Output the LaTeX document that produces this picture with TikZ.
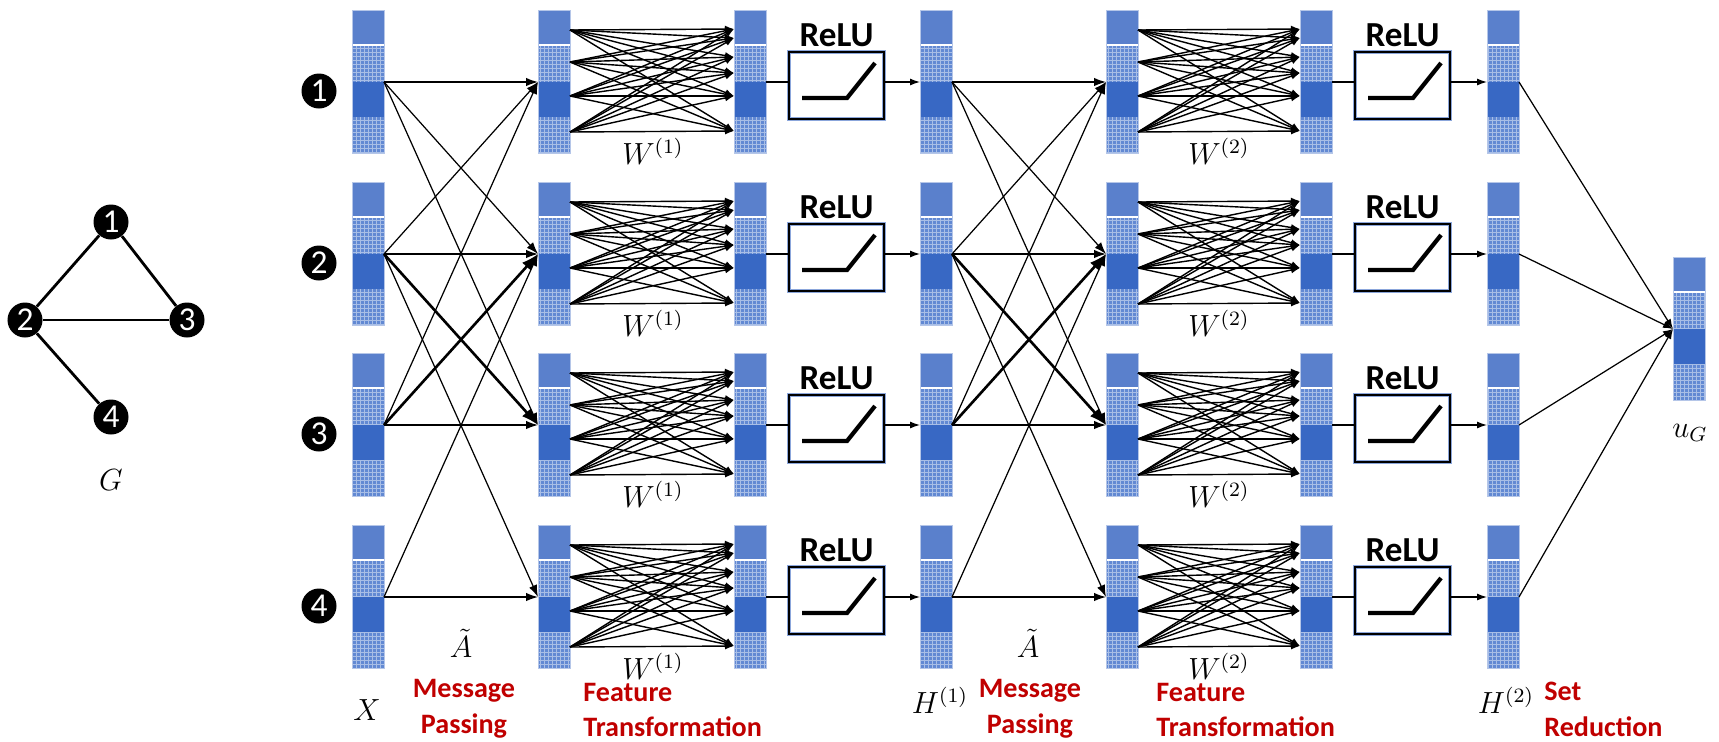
\documentclass[tikz,border=0pt]{standalone}
\usepackage{graphicx}
\usepackage{fontspec}
\newfontfamily\carlito{Carlito}
\usetikzlibrary{calc,arrows.meta}

\definecolor{segtop}{HTML}{5A80CC}
\definecolor{segdot}{HTML}{6289D3}
\definecolor{segdark}{HTML}{3868C4}
\definecolor{redlbl}{HTML}{C00000}

\newcommand{\mlbl}[1]{\scalebox{1.45}{$#1$}}

\tikzset{
  colbox/.style={minimum width=6.4mm, minimum height=28.6mm, inner sep=0pt},
  gridline/.style={white, line width=0.3pt, opacity=0.45, step=0.8mm},
  colframe/.style={draw=segtop!45!white, line width=0.5pt},
  mp/.style={-{Latex[length=2.4mm,width=1.7mm]}, line width=0.7pt},
  mpbold/.style={-{Latex[length=3.4mm,width=2.4mm]}, line width=1.5pt},
  ft/.style={-{Latex[length=1.8mm,width=1.4mm]}, line width=0.8pt},
  arr/.style={-{Latex[length=2mm,width=1.4mm]}, line width=0.7pt},
  plain/.style={line width=0.7pt},
  relu/.style={draw=black, line width=0.7pt, minimum width=19mm, minimum height=13.4mm, inner sep=0pt, preaction={draw=segtop!70, line width=2pt}},
  relucurve/.style={line width=2.4pt},
  relulabel/.style={font=\carlito\bfseries\fontsize{20}{20}\selectfont, anchor=base, inner sep=0pt},
  rowid/.style={circle, fill=black, text=white, minimum size=7mm, inner sep=0pt, font=\carlito\fontsize{19}{19}\selectfont},
  gedge/.style={line width=1.6pt},
  mathlbl/.style={font=\fontsize{12}{14}\selectfont, inner sep=0pt},
  steplbl/.style={font=\carlito\bfseries\fontsize{16}{20.4}\selectfont, text=redlbl, align=left, inner sep=0pt},
}

% one feature column: name, left x, top y
\newcommand{\featcol}[3]{%
  \node[colbox] (#1) at (#2+16,#3+71.5) {};
  \fill[segtop] (#2,#3) rectangle (#2+32,#3+34);
  \fill[segdot] (#2,#3+36) rectangle (#2+32,#3+72);
  \draw[gridline] (#2,#3+72) grid (#2+32,#3+36);
  \fill[segdark] (#2,#3+72) rectangle (#2+32,#3+107);
  \fill[segdot] (#2,#3+107) rectangle (#2+32,#3+143);
  \draw[gridline] (#2,#3+143) grid (#2+32,#3+107);
  \draw[colframe] (#2,#3) rectangle (#2+32,#3+143);
  \coordinate (#1i) at (#2,#3+72);
  \coordinate (#1o) at (#2+32,#3+72);
  \foreach \k/\o in {1/20,2/52,3/86,4/122} {\coordinate (#1s\k) at (#2+32,#3+\o);}
  \foreach \k/\o in {1/19,2/28,3/47,4/63,5/86,6/121} {\coordinate (#1t\k) at (#2,#3+\o);}
}

% relu box: name, left x, top y
\newcommand{\relubox}[3]{%
  \node[relu] (#1) at (#2+47.5,#3+33.5) {};
  \draw[relucurve] (#2+13,#3+46) -- (#2+58,#3+46) -- (#2+86,#3+11);
  \node[relulabel] (#1lbl) at ($(#1.north)+(0,-5)$) {ReLU};
}

\begin{document}
\begin{tikzpicture}[x=0.2mm, y=-0.2mm]
\useasboundingbox (0,0) rectangle (1719,741);

% input graph
\node[rowid] (g1) at (111,222) {1};
\node[rowid] (g2) at (25,320) {2};
\node[rowid] (g3) at (187,320) {3};
\node[rowid] (g4) at (111,417) {4};
\draw[gedge] (g1) -- (g2);
\draw[gedge] (g1) -- (g3);
\draw[gedge] (g2) -- (g3);
\draw[gedge] (g2) -- (g4);
\node[mathlbl] (gname) at (111,480) {\mlbl{G}};

% columns per node
\foreach \r/\t in {1/10,2/182,3/353,4/525} {
  \node[rowid] (row\r) at (319,\t+81) {\r};
  \featcol{x\r}{352}{\t}
  \featcol{ma\r}{538}{\t}
  \featcol{fa\r}{734}{\t}
  \relubox{ra\r}{789}{\t+42}
  \featcol{ha\r}{920}{\t}
  \featcol{mb\r}{1106}{\t}
  \featcol{fb\r}{1300}{\t}
  \relubox{rb\r}{1355}{\t+42}
  \featcol{hb\r}{1487}{\t}
  \node[mathlbl] (wa\r) at (653,\t+141) {\mlbl{W^{(1)}}};
  \node[mathlbl] (wb\r) at (1219,\t+141) {\mlbl{W^{(2)}}};
}
\featcol{ug}{1673}{257}

% message passing
\foreach \i/\j in {1/1,1/2,1/3,2/1,2/2,2/4,3/1,3/3,4/2,4/4} {
  \draw[mp] (x\i o) -- (ma\j i);
  \draw[mp] (ha\i o) -- (mb\j i);
}
\foreach \i/\j in {2/3,3/2} {
  \draw[mpbold] (x\i o) -- (ma\j i);
  \draw[mpbold] (ha\i o) -- (mb\j i);
}

% feature transformation
\foreach \r in {1,...,4}
  \foreach \s in {1,...,4}
    \foreach \k in {1,...,6} {
      \draw[ft] (ma\r s\s) -- (fa\r t\k);
      \draw[ft] (mb\r s\s) -- (fb\r t\k);
    }

% relu and set reduction
\foreach \r in {1,...,4} {
  \draw[plain] (fa\r o) -- (fa\r o -| ra\r.west);
  \draw[arr] (ra\r.east |- fa\r o) -- (ha\r i);
  \draw[plain] (fb\r o) -- (fb\r o -| rb\r.west);
  \draw[arr] (rb\r.east |- fb\r o) -- (hb\r i);
  \draw[arr] (hb\r o) -- (ugi);
}

% labels
\node[mathlbl] (xlbl) at (367,710) {\mlbl{X}};
\node[mathlbl] (at1) at (461,643) {\mlbl{\tilde{A}}};
\node[mathlbl] (at2) at (1028,643) {\mlbl{\tilde{A}}};
\node[mathlbl] (h1lbl) at (940,700) {\mlbl{H^{(1)}}};
\node[mathlbl] (h2lbl) at (1506,700) {\mlbl{H^{(2)}}};
\node[mathlbl] (uglbl) at (1690,433) {\mlbl{u_G}};
\node[steplbl, align=center] (mpa) at (464,709) {Message\\Passing};
\node[steplbl, anchor=west] (fta) at (583,710) {Feature\\Transformation};
\node[steplbl, align=center] (mpb) at (1030,709) {Message\\Passing};
\node[steplbl, anchor=west] (ftb) at (1156,710) {Feature\\Transformation};
\node[steplbl, anchor=west] (srd) at (1544,709) {Set\\Reduction};
\end{tikzpicture}
\end{document}
